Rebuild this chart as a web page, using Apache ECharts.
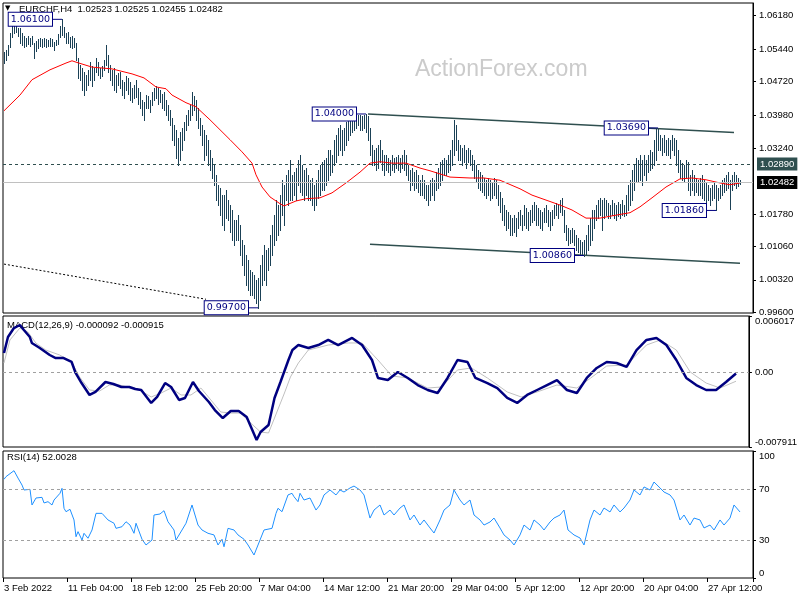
<!DOCTYPE html>
<html><head><meta charset="utf-8">
<script src="https://cdn.jsdelivr.net/npm/echarts@6/dist/echarts.min.js"></script>
<style>html,body{margin:0;padding:0;background:#fff}#c{width:800px;height:600px}</style>
</head><body><div id="c"></div>
<script>
// ---- data (EURCHF H4) ----
const highs=[
1.0538,1.0542,1.0553,1.0580,1.0602,1.0609,1.0600,1.0591,1.0591,1.0580,
1.0573,1.0569,1.0573,1.0569,1.0573,1.0558,1.0562,1.0566,1.0569,1.0566,
1.0569,1.0566,1.0564,1.0569,1.0566,1.0560,1.0564,1.0578,1.0595,1.0610,
1.0593,1.0580,1.0582,1.0571,1.0573,1.0569,1.0558,1.0524,1.0509,1.0502,
1.0493,1.0487,1.0498,1.0515,1.0507,1.0502,1.0524,1.0515,1.0502,1.0507,
1.0520,1.0553,1.0531,1.0509,1.0498,1.0502,1.0487,1.0491,1.0493,1.0476,
1.0471,1.0484,1.0480,1.0471,1.0458,1.0464,1.0476,1.0458,1.0449,1.0431,
1.0427,1.0442,1.0440,1.0431,1.0449,1.0458,1.0462,1.0458,1.0453,1.0444,
1.0449,1.0431,1.0420,1.0409,1.0391,1.0376,1.0365,1.0347,1.0360,1.0369,
1.0382,1.0398,1.0409,1.0420,1.0449,1.0440,1.0431,1.0413,1.0391,1.0376,
1.0365,1.0354,1.0343,1.0320,1.0303,1.0287,1.0265,1.0243,1.0236,1.0220,
1.0220,1.0232,1.0209,1.0198,1.0187,1.0165,1.0165,1.0176,1.0154,1.0121,
1.0110,1.0087,1.0076,1.0054,1.0050,1.0043,1.0032,1.0036,1.0065,1.0087,
1.0110,1.0098,1.0103,1.0132,1.0154,1.0176,1.0209,1.0198,1.0220,1.0254,
1.0243,1.0265,1.0276,1.0298,1.0265,1.0271,1.0280,1.0298,1.0309,1.0287,
1.0276,1.0280,1.0265,1.0254,1.0258,1.0243,1.0254,1.0276,1.0287,1.0294,
1.0298,1.0303,1.0320,1.0320,1.0309,1.0343,1.0354,1.0369,1.0376,1.0365,
1.0369,1.0382,1.0387,1.0391,1.0398,1.0398,1.0397,1.0398,1.0398,1.0396,
1.0398,1.0400,1.0396,1.0369,1.0331,1.0320,1.0325,1.0331,1.0343,1.0320,
1.0309,1.0309,1.0303,1.0298,1.0309,1.0303,1.0305,1.0309,1.0303,1.0309,
1.0320,1.0309,1.0287,1.0276,1.0280,1.0271,1.0276,1.0265,1.0254,1.0265,
1.0254,1.0243,1.0243,1.0254,1.0258,1.0254,1.0271,1.0280,1.0294,1.0298,
1.0303,1.0298,1.0309,1.0320,1.0343,1.0387,1.0376,1.0343,1.0331,1.0325,
1.0331,1.0320,1.0325,1.0320,1.0309,1.0298,1.0287,1.0276,1.0271,1.0265,
1.0258,1.0254,1.0258,1.0254,1.0249,1.0258,1.0254,1.0243,1.0227,1.0214,
1.0198,1.0187,1.0183,1.0176,1.0169,1.0176,1.0169,1.0183,1.0187,1.0176,
1.0198,1.0192,1.0183,1.0187,1.0198,1.0205,1.0198,1.0192,1.0187,1.0183,
1.0192,1.0198,1.0187,1.0183,1.0187,1.0198,1.0203,1.0198,1.0209,1.0214,
1.0187,1.0154,1.0147,1.0143,1.0147,1.0143,1.0132,1.0125,1.0121,1.0116,
1.0121,1.0132,1.0154,1.0169,1.0187,1.0187,1.0198,1.0209,1.0214,1.0209,
1.0214,1.0209,1.0203,1.0198,1.0209,1.0203,1.0198,1.0205,1.0201,1.0209,
1.0198,1.0220,1.0243,1.0254,1.0276,1.0287,1.0303,1.0298,1.0309,1.0298,
1.0309,1.0298,1.0309,1.0320,1.0316,1.0343,1.0367,1.0369,1.0354,1.0347,
1.0354,1.0343,1.0347,1.0343,1.0354,1.0347,1.0343,1.0320,1.0298,1.0291,
1.0287,1.0298,1.0294,1.0265,1.0276,1.0265,1.0258,1.0254,1.0258,1.0265,
1.0254,1.0247,1.0243,1.0236,1.0243,1.0249,1.0243,1.0236,1.0243,1.0254,
1.0258,1.0265,1.0271,1.0254,1.0265,1.0271,1.0265,1.0258,1.02525];
const lows=[
1.0513,1.0520,1.0531,1.0549,1.0571,1.0580,1.0582,1.0573,1.0558,1.0553,
1.0549,1.0551,1.0555,1.0551,1.0555,1.0524,1.0540,1.0547,1.0551,1.0549,
1.0551,1.0549,1.0551,1.0551,1.0551,1.0542,1.0553,1.0555,1.0571,1.0575,
1.0571,1.0558,1.0558,1.0549,1.0547,1.0549,1.0520,1.0480,1.0476,1.0453,
1.0442,1.0453,1.0464,1.0476,1.0462,1.0476,1.0493,1.0487,1.0480,1.0484,
1.0498,1.0509,1.0493,1.0476,1.0464,1.0453,1.0449,1.0464,1.0458,1.0442,
1.0436,1.0453,1.0444,1.0431,1.0427,1.0436,1.0438,1.0422,1.0413,1.0398,
1.0387,1.0413,1.0413,1.0405,1.0420,1.0431,1.0436,1.0422,1.0427,1.0413,
1.0409,1.0398,1.0387,1.0376,1.0343,1.0331,1.0303,1.0287,1.0298,1.0320,
1.0343,1.0365,1.0376,1.0387,1.0398,1.0409,1.0387,1.0369,1.0354,1.0331,
1.0298,1.0309,1.0287,1.0276,1.0258,1.0243,1.0209,1.0198,1.0176,1.0154,
1.0143,1.0169,1.0165,1.0138,1.0121,1.0110,1.0121,1.0121,1.0087,1.0065,
1.0043,1.0021,1.0010,0.9999,0.9999,0.9992,0.9981,0.9970,0.9988,1.0021,
1.0032,1.0021,1.0054,1.0065,1.0087,1.0110,1.0121,1.0132,1.0143,1.0176,
1.0154,1.0209,1.0198,1.0209,1.0209,1.0220,1.0209,1.0243,1.0227,1.0220,
1.0209,1.0220,1.0209,1.0209,1.0198,1.0187,1.0198,1.0214,1.0220,1.0232,
1.0232,1.0243,1.0254,1.0265,1.0271,1.0287,1.0294,1.0309,1.0320,1.0309,
1.0320,1.0331,1.0343,1.0354,1.0360,1.0365,1.0369,1.0376,1.0365,1.0365,
1.0369,1.0360,1.0343,1.0309,1.0287,1.0287,1.0276,1.0280,1.0294,1.0276,
1.0265,1.0276,1.0271,1.0265,1.0276,1.0271,1.0280,1.0276,1.0271,1.0280,
1.0276,1.0265,1.0254,1.0232,1.0243,1.0232,1.0236,1.0227,1.0220,1.0220,
1.0214,1.0209,1.0198,1.0209,1.0220,1.0209,1.0232,1.0236,1.0243,1.0254,
1.0265,1.0265,1.0271,1.0276,1.0287,1.0309,1.0320,1.0298,1.0298,1.0287,
1.0294,1.0280,1.0294,1.0287,1.0276,1.0258,1.0249,1.0236,1.0232,1.0227,
1.0220,1.0214,1.0220,1.0209,1.0214,1.0220,1.0214,1.0198,1.0183,1.0165,
1.0154,1.0143,1.0147,1.0132,1.0132,1.0138,1.0130,1.0147,1.0154,1.0143,
1.0154,1.0147,1.0143,1.0154,1.0161,1.0165,1.0154,1.0154,1.0147,1.0143,
1.0161,1.0161,1.0152,1.0143,1.0154,1.0169,1.0176,1.0169,1.0183,1.0176,
1.0138,1.0121,1.0110,1.0114,1.0116,1.0110,1.0098,1.0094,1.0087,1.0090,
1.0086,1.0090,1.0098,1.0110,1.0121,1.0147,1.0165,1.0169,1.0176,1.0143,
1.0169,1.0176,1.0169,1.0169,1.0176,1.0169,1.0165,1.0174,1.0169,1.0176,
1.0174,1.0176,1.0187,1.0198,1.0209,1.0232,1.0249,1.0249,1.0254,1.0243,
1.0265,1.0254,1.0271,1.0276,1.0280,1.0287,1.0298,1.0320,1.0320,1.0309,
1.0316,1.0309,1.0309,1.0303,1.0320,1.0309,1.0287,1.0271,1.0258,1.0254,
1.0249,1.0258,1.0232,1.0220,1.0232,1.0220,1.0227,1.0220,1.0220,1.0214,
1.0209,1.0198,1.0209,1.0198,1.0209,1.0214,1.0186,1.0209,1.0214,1.0220,
1.0227,1.0232,1.0236,1.0190,1.0232,1.0243,1.0236,1.0240,1.02455];
// moving average (red), [bar index, value]
const sma=[[0,1.0407],[8,1.0442],[14,1.0476],[23,1.0498],[31,1.0513],[34,1.0518],[36,1.0515],[44,1.0504],[54,1.0500],[64,1.0489],[70,1.0480],[76,1.0460],[81,1.0456],[84,1.0442],[91,1.0425],[96,1.0416],[103,1.0387],[113,1.0343],[119,1.0316],[124,1.0291],[126,1.0265],[129,1.0238],[133,1.0216],[138,1.0201],[140,1.0196],[146,1.0207],[151,1.0212],[158,1.0214],[164,1.0225],[171,1.0247],[178,1.0271],[183,1.0291],[188,1.0294],[194,1.0291],[201,1.0291],[208,1.0280],[213,1.0274],[223,1.0260],[233,1.0258],[240,1.0258],[248,1.0253],[258,1.0234],[264,1.0220],[271,1.0209],[278,1.0198],[284,1.0187],[291,1.0169],[298,1.0169],[304,1.0174],[313,1.0181],[318,1.0194],[324,1.0214],[331,1.0238],[338,1.0256],[344,1.0258],[351,1.0254],[358,1.0247],[363,1.0243],[368,1.0247]];
const macdMain=[[0,0.00208],[2,0.00378],[5,0.00474],[8,0.00506],[10,0.00453],[13,0.00378],[14,0.00315],[18,0.00262],[23,0.00187],[26,0.00155],[30,0.00155],[34,0.00113],[36,-0.00004],[39,-0.00111],[43,-0.00238],[46,-0.00206],[51,-0.00100],[55,-0.00121],[59,-0.00153],[63,-0.00153],[66,-0.00174],[69,-0.00185],[74,-0.00323],[77,-0.00259],[81,-0.00111],[84,-0.00153],[88,-0.00291],[91,-0.00270],[95,-0.00100],[98,-0.00196],[103,-0.00313],[106,-0.00398],[110,-0.00483],[114,-0.00408],[118,-0.00408],[122,-0.00472],[127,-0.00717],[129,-0.00632],[133,-0.00557],[136,-0.00270],[139,-0.00100],[143,0.00134],[145,0.00240],[148,0.00293],[153,0.00262],[158,0.00293],[163,0.00347],[168,0.00293],[175,0.00368],[180,0.00293],[185,0.00134],[188,-0.00057],[193,-0.00079],[198,0.00006],[203,-0.00057],[208,-0.00132],[213,-0.00185],[218,-0.00217],[223,-0.00057],[228,0.00134],[233,0.00113],[237,-0.00057],[243,-0.00111],[248,-0.00164],[253,-0.00270],[258,-0.00323],[263,-0.00238],[268,-0.00185],[273,-0.00132],[278,-0.00079],[283,-0.00185],[288,-0.00217],[293,-0.00057],[298,0.00049],[303,0.00113],[308,0.00102],[313,0.00060],[318,0.00240],[323,0.00347],[328,0.00368],[333,0.00293],[338,0.00134],[343,-0.00057],[348,-0.00132],[353,-0.00185],[358,-0.00185],[363,-0.00100],[368,-0.00009]];
const macdSignal=[[0,0.00102],[3,0.00347],[8,0.00474],[12,0.00432],[16,0.00315],[21,0.00240],[28,0.00187],[34,0.00113],[38,-0.00047],[43,-0.00185],[48,-0.00196],[53,-0.00132],[58,-0.00132],[64,-0.00164],[69,-0.00196],[74,-0.00259],[79,-0.00217],[84,-0.00164],[89,-0.00238],[94,-0.00238],[99,-0.00164],[104,-0.00291],[109,-0.00419],[114,-0.00430],[119,-0.00430],[124,-0.00536],[129,-0.00632],[133,-0.00642],[136,-0.00483],[141,-0.00217],[144,-0.00047],[148,0.00102],[153,0.00240],[163,0.00293],[173,0.00315],[180,0.00315],[188,0.00134],[195,-0.00036],[203,-0.00057],[213,-0.00164],[220,-0.00153],[228,0.00028],[235,0.00049],[243,-0.00057],[253,-0.00206],[260,-0.00259],[268,-0.00206],[278,-0.00132],[288,-0.00164],[295,-0.00057],[303,0.00070],[313,0.00081],[323,0.00293],[330,0.00347],[338,0.00240],[345,0.00006],[353,-0.00111],[360,-0.00164],[368,-0.00092]];
const rsi=[[0,77.7],[1,79.8],[5,84.5],[6,83.7],[7,78.7],[9,73.2],[10,69.3],[13,69.8],[14,57.5],[16,63.0],[19,63.5],[20,59.1],[22,60.1],[24,57.5],[25,61.4],[28,66.7],[29,70.6],[30,54.9],[31,52.2],[33,54.1],[35,45.7],[36,32.5],[37,36.5],[39,29.9],[40,35.2],[42,31.3],[44,37.8],[46,50.9],[49,50.9],[50,51.4],[52,45.7],[55,43.1],[56,39.1],[59,40.4],[61,44.3],[63,41.7],[65,35.2],[66,43.1],[69,30.5],[71,26.0],[74,29.9],[75,49.6],[78,50.4],[80,53.0],[82,44.3],[85,37.8],[86,29.9],[89,37.8],[91,43.1],[94,57.5],[95,58.3],[97,41.7],[99,37.8],[102,35.2],[105,33.9],[107,26.0],[109,30.5],[110,24.6],[112,39.1],[115,37.8],[117,33.9],[120,30.5],[122,26.0],[125,18.1],[126,16.8],[128,29.9],[130,37.8],[131,36.5],[134,39.1],[136,50.9],[137,54.9],[139,52.2],[140,53.5],[142,65.4],[144,66.7],[145,64.0],[147,60.1],[148,66.7],[150,61.4],[153,63.0],[156,53.5],[158,57.5],[160,65.4],[163,69.3],[166,65.4],[168,69.3],[170,67.7],[173,70.9],[175,72.4],[178,69.3],[180,65.4],[183,47.2],[185,53.5],[188,57.5],[190,49.6],[193,53.5],[195,49.6],[198,55.1],[200,57.5],[203,45.7],[205,49.6],[208,41.7],[210,45.7],[213,39.4],[215,35.4],[218,45.7],[220,53.5],[223,57.5],[225,69.3],[228,61.4],[230,57.5],[233,61.4],[235,49.6],[238,45.7],[240,41.7],[243,44.1],[245,47.2],[248,39.4],[250,33.9],[253,29.9],[255,26.0],[258,33.9],[260,41.7],[263,37.8],[265,45.7],[268,41.7],[270,37.8],[273,44.1],[275,47.2],[278,49.6],[280,53.5],[282,37.8],[285,33.9],[288,31.5],[290,26.0],[293,45.7],[295,53.5],[298,49.6],[300,55.1],[303,52.0],[305,57.5],[308,52.0],[310,55.1],[313,61.4],[315,69.3],[318,65.4],[320,71.7],[323,69.3],[325,75.6],[328,70.9],[330,67.7],[333,65.4],[335,61.4],[338,45.7],[340,49.6],[343,41.7],[345,47.2],[348,45.7],[350,39.4],[353,41.7],[355,37.8],[358,45.7],[360,41.7],[363,47.2],[365,57.5],[368,52.0]];
// annotated swing points [bar index, price, text]
const swingIdx=[29,181,127,327,290,356];
const swingVal=[1.0610,1.0400,0.9970,1.0369,1.0086,1.0186];
const swingText=['1.06100','1.04000','0.99700','1.03690','1.00860','1.01860'];
// trend lines [[i1,v1],[i2,v2]]
const upperTrend=[[182,1.0400],[365,1.0359]];
const lowerTrend=[[183,1.0111],[368,1.0069]];
const oldTrend=[[0,1.0067],[101,0.9989]];
const level=1.0289, lastPrice=1.02482;
const mainTicks=[0.9960,1.0032,1.0106,1.0178,1.0324,1.0398,1.0472,1.0544,1.0618];
const macdTicks=[-0.007911,0,0.006017], macdTickText=['-0.007911','0.00','0.006017'];
const rsiTicks=[0,30,70,100];
const tickLabels=['3 Feb 2022','11 Feb 04:00','18 Feb 12:00','25 Feb 20:00','7 Mar 04:00','14 Mar 12:00','21 Mar 20:00','29 Mar 04:00','5 Apr 12:00','12 Apr 20:00','20 Apr 04:00','27 Apr 12:00'];

// ---- chart ----
const F='Liberation Sans', FS=9.5, BAR='#1b4156';
const N=375;
const cats=Array.from({length:N},(_,i)=>String(i));
const barData=highs.map((h,i)=>[i,h,lows[i]]);
const every32=i=>i%32===0;
function renderBar(params,api){
  const i=api.value(0);
  const a=api.coord([i,api.value(1)]), b=api.coord([i,api.value(2)]);
  const x=Math.round(a[0])+0.5;
  return {type:'line',shape:{x1:x,y1:Math.round(a[1]),x2:x,y2:Math.round(b[1])+1},style:{stroke:BAR,lineWidth:1}};
}
const gridBase={show:true,borderColor:'#000',borderWidth:1,left:3,width:750};
const lbl={fontFamily:F,fontSize:FS,color:'#000'};
const xBase=(gi,show)=>({gridIndex:gi,type:'category',data:cats,boundaryGap:true,show:show,
  axisLine:{show:false},
  axisTick:{show:true,interval:every32,length:4,lineStyle:{color:'#000'}},
  axisLabel:Object.assign({interval:every32,formatter:(v,i)=>tickLabels[i/32]||'',align:'left',margin:5},lbl)});
const trend=(pts,style)=>[{coord:pts[0],lineStyle:style,label:{show:false}},{coord:pts[1]}];
const font=FS+'px "Liberation Sans"';
const option={
  animation:false,
  grid:[Object.assign({top:3,height:310},gridBase),Object.assign({top:316,height:131},gridBase),Object.assign({top:451,height:127},gridBase)],
  xAxis:[xBase(0,false),xBase(1,false),xBase(2,true)],
  yAxis:[
    {gridIndex:0,type:'value',position:'right',min:0.99585,max:1.06462,
     axisLine:{show:true,lineStyle:{color:'#000'}},splitLine:{show:false},
     axisTick:{show:true,length:3,customValues:mainTicks,lineStyle:{color:'#000'}},
     axisLabel:Object.assign({customValues:mainTicks,formatter:v=>v.toFixed(5),margin:6},lbl)},
    {gridIndex:1,type:'value',position:'right',min:macdTicks[0],max:macdTicks[2],
     axisLine:{show:true,lineStyle:{color:'#000'}},splitLine:{show:false},
     axisTick:{show:true,length:3,customValues:macdTicks,lineStyle:{color:'#000'}},
     axisLabel:Object.assign({customValues:macdTicks,margin:6,verticalAlignMaxLabel:'top',verticalAlignMinLabel:'bottom',
       formatter:v=>{let k=0;macdTicks.forEach((t,j)=>{if(Math.abs(t-v)<Math.abs(macdTicks[k]-v))k=j;});return macdTickText[k];}},lbl)},
    {gridIndex:2,type:'value',position:'right',min:0,max:100,
     axisLine:{show:true,lineStyle:{color:'#000'}},splitLine:{show:false},
     axisTick:{show:true,length:3,customValues:rsiTicks,lineStyle:{color:'#000'}},
     axisLabel:Object.assign({customValues:rsiTicks,margin:6,verticalAlignMaxLabel:'top',verticalAlignMinLabel:'bottom'},lbl)}
  ],
  graphic:[
    {type:'text',left:415,top:58,z:-10,style:{text:'ActionForex.com',font:'23px "Liberation Sans"',fill:'#cbcbcb'}},
    {type:'text',left:5,top:5,style:{text:'▼',font:'7px "DejaVu Sans"',fill:'#000'}},
    {type:'text',left:19,top:4,style:{text:'EURCHF,H4  1.02523 1.02525 1.02455 1.02482',font:font,fill:'#000'}},
    {type:'text',left:7,top:320,style:{text:'MACD(12,26,9) -0.000092 -0.000915',font:font,fill:'#000'}},
    {type:'text',left:7,top:452,style:{text:'RSI(14) 52.0028',font:font,fill:'#000'}}
  ],
  series:[
    {type:'custom',xAxisIndex:0,yAxisIndex:0,data:barData,renderItem:renderBar,encode:{x:0,y:[1,2]},z:3,silent:true},
    {type:'line',xAxisIndex:0,yAxisIndex:0,data:sma,showSymbol:false,silent:true,z:4,
     lineStyle:{color:'#ff0000',width:1},
     markLine:{silent:true,precision:6,symbol:['none','none'],animation:false,data:[
       {yAxis:level,lineStyle:{color:'#2f4f4f',type:[3,3],width:1},
        label:{show:true,position:'end',formatter:'1.02890',backgroundColor:'#2f4f4f',color:'#fff',padding:[2,3,1,3],distance:4,fontFamily:F,fontSize:FS}},
       {yAxis:lastPrice,lineStyle:{color:'#c0c0c0',type:'solid',width:1},
        label:{show:true,position:'end',formatter:'1.02482',backgroundColor:'#000',color:'#fff',padding:[2,3,1,3],distance:4,fontFamily:F,fontSize:FS}},
       trend(upperTrend,{color:'#2f4f4f',width:1.5,type:'solid'}),
       trend(lowerTrend,{color:'#2f4f4f',width:1.5,type:'solid'}),
       trend(oldTrend,{color:'#000',width:1,type:[2,2]})
     ]},
     markPoint:{silent:true,animation:false,symbol:'rect',symbolSize:[10,1],symbolOffset:[-5,0],itemStyle:{color:'#000080'},
       label:{show:true,position:'left',distance:0,formatter:p=>p.name,backgroundColor:'#fff',borderColor:'#000080',borderWidth:1,
         padding:[2,2,1,2],color:'#000080',fontFamily:'DejaVu Sans',fontSize:9.5},
       data:swingIdx.map((i,k)=>({name:swingText[k],coord:[i,swingVal[k]]}))}
    },
    {type:'line',xAxisIndex:1,yAxisIndex:1,data:macdSignal,showSymbol:false,silent:true,z:3,lineStyle:{color:'#c0c0c0',width:1},
     markLine:{silent:true,precision:6,symbol:['none','none'],label:{show:false},lineStyle:{color:'#a0a0a0',type:[3,3],width:1},data:[{yAxis:0}]}},
    {type:'line',xAxisIndex:1,yAxisIndex:1,data:macdMain,showSymbol:false,silent:true,z:4,lineStyle:{color:'#000080',width:2.5}},
    {type:'line',xAxisIndex:2,yAxisIndex:2,data:rsi,showSymbol:false,silent:true,z:4,lineStyle:{color:'#1e90ff',width:1},
     markLine:{silent:true,precision:6,symbol:['none','none'],label:{show:false},lineStyle:{color:'#a0a0a0',type:[3,3],width:1},data:[{yAxis:30},{yAxis:70}]}}
  ]
};
const chart=echarts.init(document.getElementById('c'),null,{renderer:'canvas'});
chart.setOption(option);
</script>
</body></html>
